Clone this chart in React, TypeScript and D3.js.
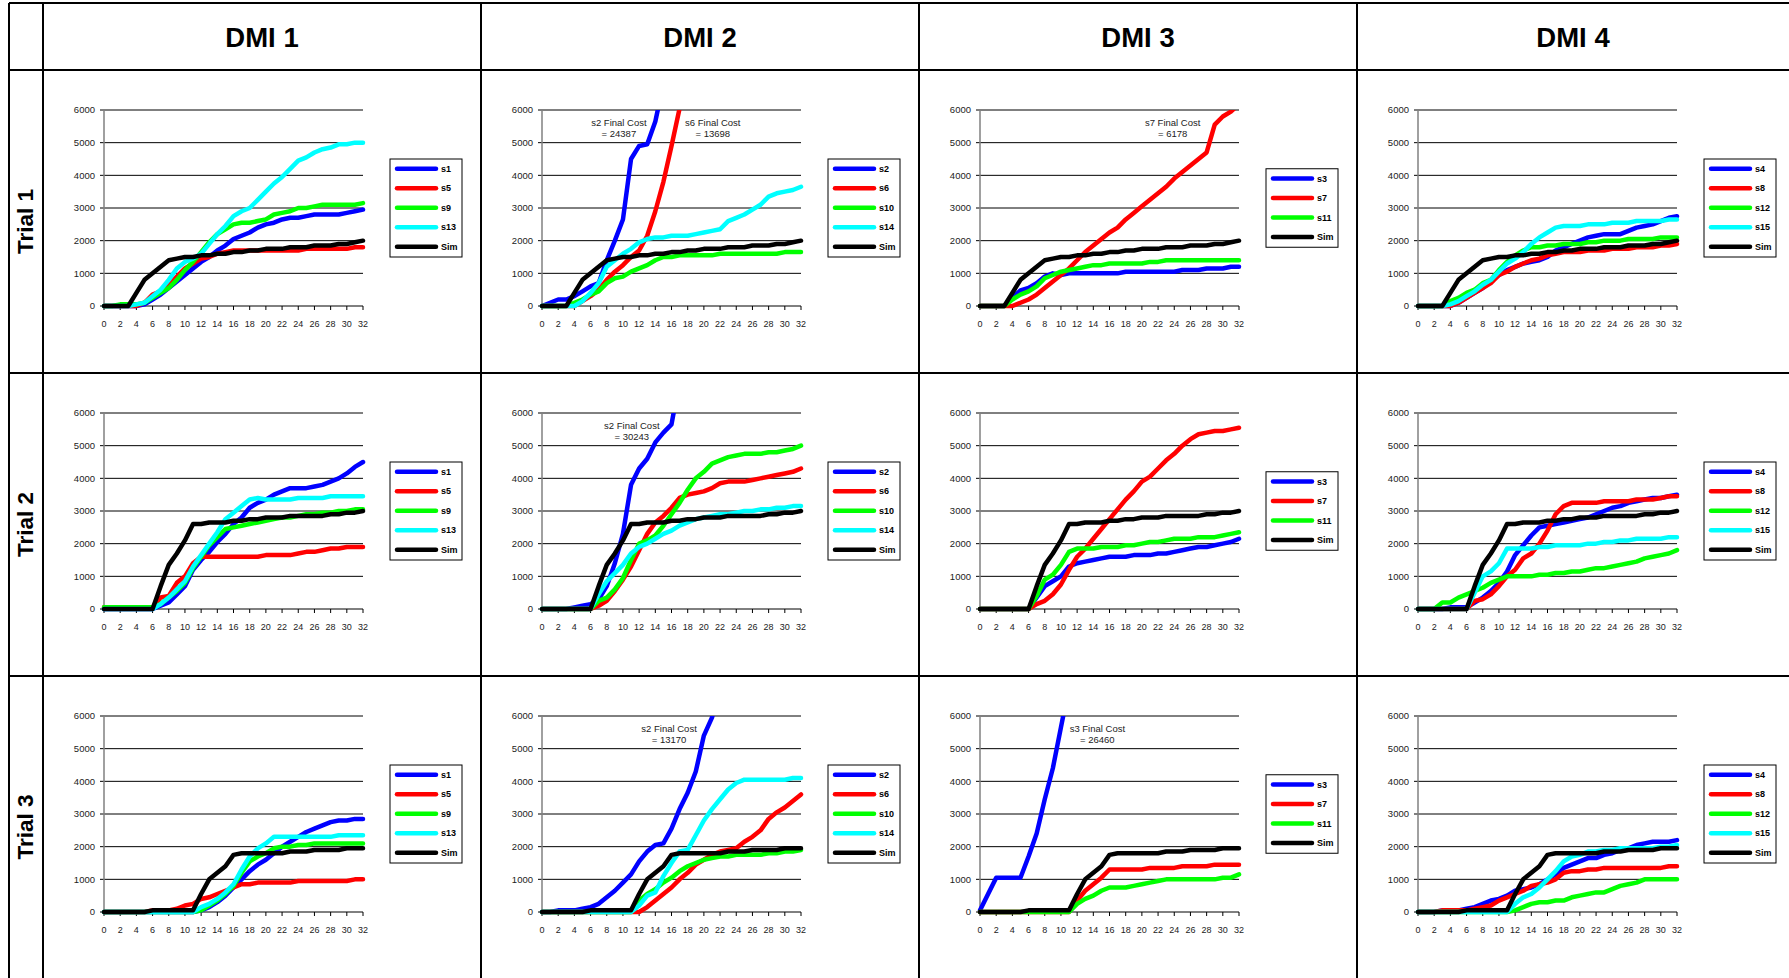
import React from 'react';
import * as d3 from 'd3';

// ---- categories / ticks ----
const xSteps = [0, 1, 2, 3, 4, 5, 6, 7, 8, 9, 10, 11, 12, 13, 14, 15, 16, 17, 18, 19, 20, 21, 22, 23, 24, 25, 26, 27, 28, 29, 30, 31, 32];
const xTickLabels = [0, 2, 4, 6, 8, 10, 12, 14, 16, 18, 20, 22, 24, 26, 28, 30, 32];
const yTicks = [0, 1000, 2000, 3000, 4000, 5000, 6000];
const dmiLabels = ['DMI 1', 'DMI 2', 'DMI 3', 'DMI 4'];
const trialLabels = ['Trial 1', 'Trial 2', 'Trial 3'];
const seriesNames = [
  ['s1', 's5', 's9', 's13', 'Sim'],
  ['s2', 's6', 's10', 's14', 'Sim'],
  ['s3', 's7', 's11', 'Sim'],
  ['s4', 's8', 's12', 's15', 'Sim'],
];

// ---- simulated baseline, one per trial ----
const simT1 = [0, 0, 0, 0, 400, 800, 1000, 1200, 1400, 1450, 1500, 1500, 1550, 1550, 1600, 1600, 1650, 1650, 1700, 1700, 1750, 1750, 1750, 1800, 1800, 1800, 1850, 1850, 1850, 1900, 1900, 1950, 2000];
const simT2 = [0, 0, 0, 0, 0, 0, 0, 700, 1350, 1700, 2100, 2600, 2600, 2650, 2650, 2650, 2700, 2700, 2750, 2750, 2800, 2800, 2800, 2850, 2850, 2850, 2850, 2850, 2900, 2900, 2950, 2950, 3000];
const simT3 = [0, 0, 0, 0, 0, 0, 50, 50, 50, 50, 50, 50, 550, 1000, 1200, 1400, 1750, 1800, 1800, 1800, 1800, 1800, 1800, 1850, 1850, 1850, 1900, 1900, 1900, 1900, 1950, 1950, 1950];

// ---- Trial 1 ----
const t1s1 = [0, 0, 0, 0, 0, 50, 200, 350, 550, 750, 950, 1150, 1350, 1500, 1700, 1850, 2050, 2150, 2250, 2400, 2500, 2550, 2650, 2700, 2700, 2750, 2800, 2800, 2800, 2800, 2850, 2900, 2950];
const t1s5 = [0, 0, 0, 0, 0, 100, 350, 450, 650, 900, 1150, 1300, 1450, 1500, 1600, 1650, 1700, 1700, 1700, 1700, 1700, 1700, 1700, 1700, 1700, 1750, 1750, 1750, 1750, 1750, 1750, 1800, 1800];
const t1s9 = [0, 0, 50, 50, 50, 100, 250, 400, 550, 800, 1100, 1350, 1650, 1950, 2200, 2350, 2500, 2550, 2550, 2600, 2650, 2800, 2850, 2900, 3000, 3000, 3050, 3100, 3100, 3100, 3100, 3100, 3150];
const t1s13 = [0, 0, 0, 0, 50, 100, 300, 500, 800, 1150, 1350, 1450, 1600, 1900, 2200, 2450, 2750, 2900, 3000, 3250, 3500, 3750, 3950, 4200, 4450, 4550, 4700, 4800, 4850, 4950, 4950, 5000, 5000];

const t1s2 = [0, 100, 200, 200, 300, 450, 600, 700, 1400, 2000, 2650, 4500, 4900, 4950, 5650, 6800];
const t1s6 = [0, 0, 0, 0, 0, 150, 300, 500, 800, 1050, 1250, 1500, 1700, 2150, 2900, 3800, 4900, 6050, 7200];
const t1s10 = [0, 0, 0, 0, 100, 200, 350, 450, 700, 850, 900, 1050, 1150, 1250, 1400, 1500, 1500, 1550, 1550, 1550, 1550, 1550, 1600, 1600, 1600, 1600, 1600, 1600, 1600, 1600, 1650, 1650, 1650];
const t1s14 = [0, 0, 0, 0, 0, 150, 400, 700, 1200, 1400, 1600, 1750, 1950, 2050, 2100, 2100, 2150, 2150, 2150, 2200, 2250, 2300, 2350, 2600, 2700, 2800, 2950, 3100, 3350, 3450, 3500, 3550, 3650];

const t1s3 = [0, 0, 0, 0, 250, 480, 550, 700, 900, 1000, 950, 1000, 1000, 1000, 1000, 1000, 1000, 1000, 1050, 1050, 1050, 1050, 1050, 1050, 1050, 1100, 1100, 1100, 1150, 1150, 1150, 1200, 1200];
const t1s7 = [0, 0, 0, 0, 0, 100, 200, 350, 550, 750, 950, 1150, 1400, 1650, 1850, 2050, 2250, 2400, 2650, 2850, 3050, 3250, 3450, 3650, 3900, 4100, 4300, 4500, 4700, 5550, 5800, 5950, 6178];
const t1s11 = [0, 0, 0, 0, 200, 350, 450, 600, 850, 950, 1050, 1100, 1150, 1200, 1250, 1250, 1300, 1300, 1300, 1300, 1300, 1350, 1350, 1400, 1400, 1400, 1400, 1400, 1400, 1400, 1400, 1400, 1400];

const t1s4 = [0, 0, 0, 0, 0, 100, 250, 400, 550, 750, 950, 1100, 1200, 1300, 1350, 1400, 1500, 1700, 1800, 1900, 2000, 2100, 2150, 2200, 2200, 2200, 2300, 2400, 2450, 2500, 2600, 2700, 2750];
const t1s8 = [0, 0, 0, 0, 0, 100, 250, 400, 550, 700, 950, 1050, 1200, 1300, 1400, 1450, 1550, 1600, 1650, 1650, 1650, 1700, 1700, 1700, 1750, 1750, 1750, 1800, 1800, 1800, 1850, 1850, 1900];
const t1s12 = [0, 0, 0, 0, 150, 250, 400, 500, 700, 800, 1100, 1350, 1550, 1700, 1800, 1800, 1850, 1850, 1900, 1900, 1900, 1950, 1950, 2000, 2000, 2000, 2050, 2050, 2050, 2050, 2100, 2100, 2100];
const t1s15 = [0, 0, 0, 0, 50, 150, 300, 450, 650, 800, 1050, 1300, 1450, 1650, 1900, 2100, 2250, 2400, 2450, 2450, 2450, 2500, 2500, 2500, 2550, 2550, 2550, 2600, 2600, 2600, 2600, 2650, 2650];

// ---- Trial 2 ----
const t2s1 = [0, 0, 0, 0, 0, 0, 0, 100, 200, 450, 700, 1200, 1500, 1750, 2050, 2300, 2600, 2800, 3100, 3250, 3350, 3500, 3600, 3700, 3700, 3700, 3750, 3800, 3900, 4000, 4150, 4350, 4500];
const t2s5 = [50, 50, 50, 50, 50, 50, 50, 350, 400, 800, 1000, 1400, 1600, 1600, 1600, 1600, 1600, 1600, 1600, 1600, 1650, 1650, 1650, 1650, 1700, 1750, 1750, 1800, 1850, 1850, 1900, 1900, 1900];
const t2s9 = [50, 50, 50, 50, 50, 50, 50, 150, 350, 550, 800, 1250, 1600, 1950, 2200, 2450, 2500, 2550, 2600, 2650, 2700, 2750, 2800, 2800, 2850, 2900, 2900, 2950, 2950, 3000, 3000, 3050, 3050];
const t2s13 = [0, 0, 0, 0, 0, 0, 0, 150, 350, 600, 850, 1300, 1650, 2000, 2350, 2750, 2950, 3150, 3350, 3400, 3350, 3350, 3350, 3350, 3400, 3400, 3400, 3400, 3450, 3450, 3450, 3450, 3450];

const t2s2 = [0, 0, 0, 0, 50, 100, 150, 300, 700, 1400, 2300, 3800, 4300, 4600, 5100, 5400, 5650, 7000];
const t2s6 = [0, 0, 0, 0, 0, 0, 0, 100, 250, 550, 900, 1300, 1800, 2300, 2650, 2850, 3100, 3400, 3500, 3550, 3600, 3700, 3850, 3900, 3900, 3900, 3950, 4000, 4050, 4100, 4150, 4200, 4300];
const t2s10 = [0, 0, 0, 0, 0, 0, 0, 250, 350, 600, 950, 1500, 2000, 2100, 2250, 2550, 2900, 3250, 3650, 4000, 4200, 4450, 4550, 4650, 4700, 4750, 4750, 4750, 4800, 4800, 4850, 4900, 5000];
const t2s14 = [0, 0, 0, 0, 0, 0, 0, 450, 850, 1100, 1350, 1700, 1900, 2000, 2150, 2300, 2400, 2550, 2650, 2750, 2800, 2850, 2900, 2900, 2950, 3000, 3000, 3050, 3050, 3100, 3100, 3150, 3150];

const t2s3 = [0, 0, 0, 0, 0, 0, 0, 350, 700, 850, 1000, 1300, 1400, 1450, 1500, 1550, 1600, 1600, 1600, 1650, 1650, 1650, 1700, 1700, 1750, 1800, 1850, 1900, 1900, 1950, 2000, 2050, 2150];
const t2s7 = [0, 0, 0, 0, 0, 0, 0, 150, 250, 450, 750, 1200, 1600, 1850, 2150, 2450, 2750, 3050, 3350, 3600, 3900, 4050, 4300, 4550, 4750, 5000, 5200, 5350, 5400, 5450, 5450, 5500, 5550];
const t2s11 = [0, 0, 0, 0, 0, 0, 0, 400, 900, 1050, 1350, 1750, 1850, 1850, 1850, 1900, 1900, 1900, 1950, 1950, 2000, 2050, 2050, 2100, 2150, 2150, 2150, 2200, 2200, 2200, 2250, 2300, 2350];

const t2s4 = [0, 0, 0, 0, 50, 50, 50, 200, 350, 550, 800, 1150, 1650, 1950, 2250, 2500, 2550, 2600, 2650, 2700, 2750, 2800, 2900, 3000, 3100, 3150, 3250, 3300, 3350, 3400, 3400, 3450, 3500];
const t2s8 = [0, 0, 0, 0, 0, 0, 0, 250, 300, 450, 700, 1000, 1200, 1550, 1700, 2000, 2400, 2900, 3150, 3250, 3250, 3250, 3250, 3300, 3300, 3300, 3300, 3350, 3350, 3350, 3400, 3450, 3450];
const t2s12 = [0, 0, 0, 200, 200, 350, 450, 550, 650, 800, 900, 1000, 1000, 1000, 1000, 1050, 1050, 1100, 1100, 1150, 1150, 1200, 1250, 1250, 1300, 1350, 1400, 1450, 1550, 1600, 1650, 1700, 1800];
const t2s15 = [0, 0, 0, 0, 0, 0, 0, 500, 1000, 1150, 1400, 1850, 1850, 1850, 1850, 1900, 1900, 1950, 1950, 1950, 1950, 2000, 2000, 2050, 2050, 2100, 2100, 2150, 2150, 2150, 2150, 2200, 2200];

// ---- Trial 3 ----
const t3s1 = [0, 0, 0, 0, 0, 0, 0, 0, 0, 0, 0, 0, 50, 150, 300, 500, 750, 1000, 1250, 1450, 1600, 1800, 2000, 2150, 2300, 2450, 2550, 2650, 2750, 2800, 2800, 2850, 2850];
const t3s5 = [0, 0, 0, 0, 0, 0, 50, 50, 50, 100, 200, 250, 400, 450, 550, 650, 750, 850, 850, 900, 900, 900, 900, 900, 950, 950, 950, 950, 950, 950, 950, 1000, 1000];
const t3s9 = [0, 0, 0, 0, 0, 0, 0, 0, 0, 0, 0, 0, 50, 200, 350, 550, 800, 1200, 1550, 1700, 1800, 1950, 2000, 2000, 2050, 2050, 2100, 2100, 2100, 2100, 2100, 2100, 2100];
const t3s13 = [0, 0, 0, 0, 0, 0, 0, 0, 0, 0, 0, 0, 150, 250, 400, 600, 850, 1300, 1700, 1950, 2100, 2300, 2300, 2300, 2300, 2300, 2300, 2300, 2300, 2350, 2350, 2350, 2350];

const t3s2 = [0, 0, 50, 50, 50, 100, 150, 250, 450, 650, 900, 1150, 1550, 1850, 2050, 2100, 2550, 3150, 3650, 4300, 5400, 5950, 6800];
const t3s6 = [0, 0, 0, 0, 0, 0, 0, 0, 0, 0, 0, 0, 0, 150, 350, 550, 750, 1000, 1200, 1450, 1600, 1750, 1850, 1900, 1950, 2150, 2300, 2500, 2850, 3050, 3200, 3400, 3600];
const t3s10 = [0, 0, 0, 0, 0, 0, 0, 0, 0, 0, 0, 0, 350, 550, 700, 900, 1050, 1250, 1400, 1500, 1600, 1650, 1700, 1700, 1750, 1750, 1750, 1750, 1800, 1800, 1850, 1850, 1900];
const t3s14 = [0, 0, 0, 0, 0, 0, 0, 0, 0, 0, 0, 0, 200, 500, 600, 1100, 1500, 1850, 1900, 2350, 2800, 3150, 3450, 3750, 3950, 4050, 4050, 4050, 4050, 4050, 4050, 4100, 4100];

const t3s3 = [50, 550, 1050, 1050, 1050, 1050, 1700, 2400, 3450, 4400, 5650, 6900];
const t3s7 = [0, 0, 0, 0, 0, 0, 0, 0, 0, 0, 0, 0, 350, 650, 850, 1050, 1300, 1300, 1300, 1300, 1300, 1350, 1350, 1350, 1350, 1400, 1400, 1400, 1400, 1450, 1450, 1450, 1450];
const t3s11 = [0, 0, 0, 0, 0, 0, 0, 0, 0, 0, 0, 0, 250, 400, 500, 650, 750, 750, 750, 800, 850, 900, 950, 1000, 1000, 1000, 1000, 1000, 1000, 1000, 1050, 1050, 1150];

const t3s4 = [0, 0, 0, 50, 50, 50, 100, 150, 250, 350, 400, 500, 650, 700, 750, 850, 1000, 1150, 1350, 1450, 1550, 1650, 1650, 1750, 1800, 1900, 1950, 2050, 2100, 2150, 2150, 2150, 2200];
const t3s8 = [0, 0, 0, 50, 50, 50, 50, 100, 150, 200, 350, 450, 550, 650, 800, 850, 900, 1000, 1200, 1250, 1250, 1300, 1300, 1350, 1350, 1350, 1350, 1350, 1350, 1350, 1350, 1400, 1400];
const t3s12 = [0, 0, 0, 0, 0, 0, 0, 0, 0, 0, 0, 0, 50, 150, 250, 300, 300, 350, 350, 450, 500, 550, 600, 600, 700, 800, 850, 900, 1000, 1000, 1000, 1000, 1000];
const t3s15 = [0, 0, 0, 0, 0, 0, 0, 0, 0, 0, 0, 0, 250, 450, 550, 750, 1000, 1250, 1550, 1700, 1750, 1850, 1850, 1900, 1900, 1950, 1950, 1950, 1950, 1950, 2000, 2000, 2050];

// ---- "Final Cost" notes (x in steps) ----
const finalCostNotes = [
  { trial: 0, dmi: 1, x: 9.5, line1: 's2 Final Cost', line2: '= 24387' },
  { trial: 0, dmi: 1, x: 21.1, line1: 's6 Final Cost', line2: '= 13698' },
  { trial: 0, dmi: 2, x: 23.8, line1: 's7 Final Cost', line2: '= 6178' },
  { trial: 1, dmi: 1, x: 11.1, line1: 's2 Final Cost', line2: '= 30243' },
  { trial: 2, dmi: 1, x: 15.7, line1: 's2 Final Cost', line2: '= 13170' },
  { trial: 2, dmi: 2, x: 14.5, line1: 's3 Final Cost', line2: '= 26460' },
];

const grid = [
  [[t1s1, t1s5, t1s9, t1s13, simT1], [t1s2, t1s6, t1s10, t1s14, simT1], [t1s3, t1s7, t1s11, simT1], [t1s4, t1s8, t1s12, t1s15, simT1]],
  [[t2s1, t2s5, t2s9, t2s13, simT2], [t2s2, t2s6, t2s10, t2s14, simT2], [t2s3, t2s7, t2s11, simT2], [t2s4, t2s8, t2s12, t2s15, simT2]],
  [[t3s1, t3s5, t3s9, t3s13, simT3], [t3s2, t3s6, t3s10, t3s14, simT3], [t3s3, t3s7, t3s11, simT3], [t3s4, t3s8, t3s12, t3s15, simT3]],
];

const colourOf = (name: string) => {
  if (name === 'Sim') return '#000000';
  const n = +name.slice(1);
  if (n >= 13) return '#00FFFF';
  if (n <= 4) return '#0000FF';
  if (n <= 8) return '#FF0000';
  return '#00FF00';
};

const W = 1789;
const H = 978;
const FONT = "'Liberation Sans', Arial, sans-serif";
const colLeft = [43, 481, 919, 1357];
const rowTop = [70, 373, 676];
const rowBottom = [373, 676, 978];

const Panel: React.FC<{ r: number; c: number }> = ({ r, c }) => {
  const left = colLeft[c] + 61;
  const right = left + 259;
  const top = rowTop[r] + 40;
  const bottom = top + 196;
  const x = d3.scaleLinear().domain([0, 32]).range([left, right]);
  const y = d3.scaleLinear().domain([0, 6000]).range([bottom, top]);
  const names = seriesNames[c];
  const data = grid[r][c];
  const line = d3.line<number>().x((_, i) => x(xSteps[i])).y(d => y(d));
  const clipId = `clip-${r}-${c}`;

  const n = names.length;
  const rowGap = 19.5;
  const boxH = n * rowGap + 0.5;
  const boxX = colLeft[c] + 347;
  const boxY = (top + bottom) / 2 - boxH / 2;
  const notes = finalCostNotes.filter(d => d.trial === r && d.dmi === c);

  return (
    <g>
      <defs>
        <clipPath id={clipId}>
          <rect x={left - 6} y={top} width={right - left + 12} height={bottom - top + 6} />
        </clipPath>
      </defs>
      {yTicks.filter(t => t > 0).map(t => (
        <line key={t} x1={left - 4} x2={right} y1={y(t)} y2={y(t)} stroke="#000" strokeWidth={1} />
      ))}
      <line x1={left} x2={left} y1={top} y2={bottom} stroke="#808080" strokeWidth={1.5} />
      <line x1={left - 4} x2={right} y1={bottom} y2={bottom} stroke="#000" strokeWidth={1} />
      {xTickLabels.map(t => (
        <line key={t} x1={x(t)} x2={x(t)} y1={bottom} y2={bottom + 4} stroke="#000" strokeWidth={1} />
      ))}
      {yTicks.map(t => (
        <text key={t} x={left - 9} y={y(t)} dy="0.35em" textAnchor="end" fontSize={9.5} fontFamily={FONT} fill="#222">{t}</text>
      ))}
      {xTickLabels.map(t => (
        <text key={t} x={x(t)} y={bottom + 21} textAnchor="middle" fontSize={9} fontFamily={FONT} fill="#222">{t}</text>
      ))}
      <g clipPath={`url(#${clipId})`}>
        {data.map((vals, i) => (
          <path key={names[i]} d={line(vals) || ''} fill="none" stroke={colourOf(names[i])} strokeWidth={4.5}
            strokeLinejoin="round" strokeLinecap="round" />
        ))}
      </g>
      {notes.map(nt => (
        <g key={nt.line1}>
          <text x={x(nt.x)} y={top + 15.5} textAnchor="middle" fontSize={9.5} fontFamily={FONT} fill="#222">{nt.line1}</text>
          <text x={x(nt.x)} y={top + 26.5} textAnchor="middle" fontSize={9.5} fontFamily={FONT} fill="#222">{nt.line2}</text>
        </g>
      ))}
      <rect x={boxX} y={boxY} width={72} height={boxH} fill="#fff" stroke="#000" strokeWidth={1} />
      {names.map((nm, i) => {
        const ey = boxY + 9.75 + i * rowGap;
        return (
          <g key={nm}>
            <line x1={boxX + 7} x2={boxX + 46} y1={ey} y2={ey} stroke={colourOf(nm)} strokeWidth={4.5} strokeLinecap="round" />
            <text x={boxX + 51} y={ey} dy="0.35em" fontSize={9} fontWeight="bold" fontFamily={FONT} fill="#000">{nm}</text>
          </g>
        );
      })}
    </g>
  );
};

export default function App() {
  return (
    <div style={{ position: 'absolute', left: 0, top: 0 }}>
      <svg width={W} height={H} style={{ display: 'block', background: '#fff' }}>
        {/* table rules */}
        {[9, ...colLeft].map(xv => (
          <line key={`v${xv}`} x1={xv} x2={xv} y1={3} y2={H} stroke="#000" strokeWidth={2} />
        ))}
        {[3, ...rowTop].map(yv => (
          <line key={`h${yv}`} x1={9} x2={W} y1={yv} y2={yv} stroke="#000" strokeWidth={2} />
        ))}
        {dmiLabels.map((lab, c) => {
          const cx = (colLeft[c] + (c < 3 ? colLeft[c + 1] : W)) / 2;
          return (
            <text key={lab} x={cx} y={37} dy="0.35em" textAnchor="middle" fontSize={27.5} fontWeight="bold" fontFamily={FONT}>{lab}</text>
          );
        })}
        {trialLabels.map((lab, r) => {
          const cy = (rowTop[r] + rowBottom[r]) / 2;
          return (
            <text key={lab} transform={`translate(25,${cy}) rotate(-90)`} dy="0.35em" textAnchor="middle" fontSize={22.5} fontWeight="bold" fontFamily={FONT}>{lab}</text>
          );
        })}
        {rowTop.map((_, r) => colLeft.map((__, c) => <Panel key={`${r}-${c}`} r={r} c={c} />))}
      </svg>
    </div>
  );
}
